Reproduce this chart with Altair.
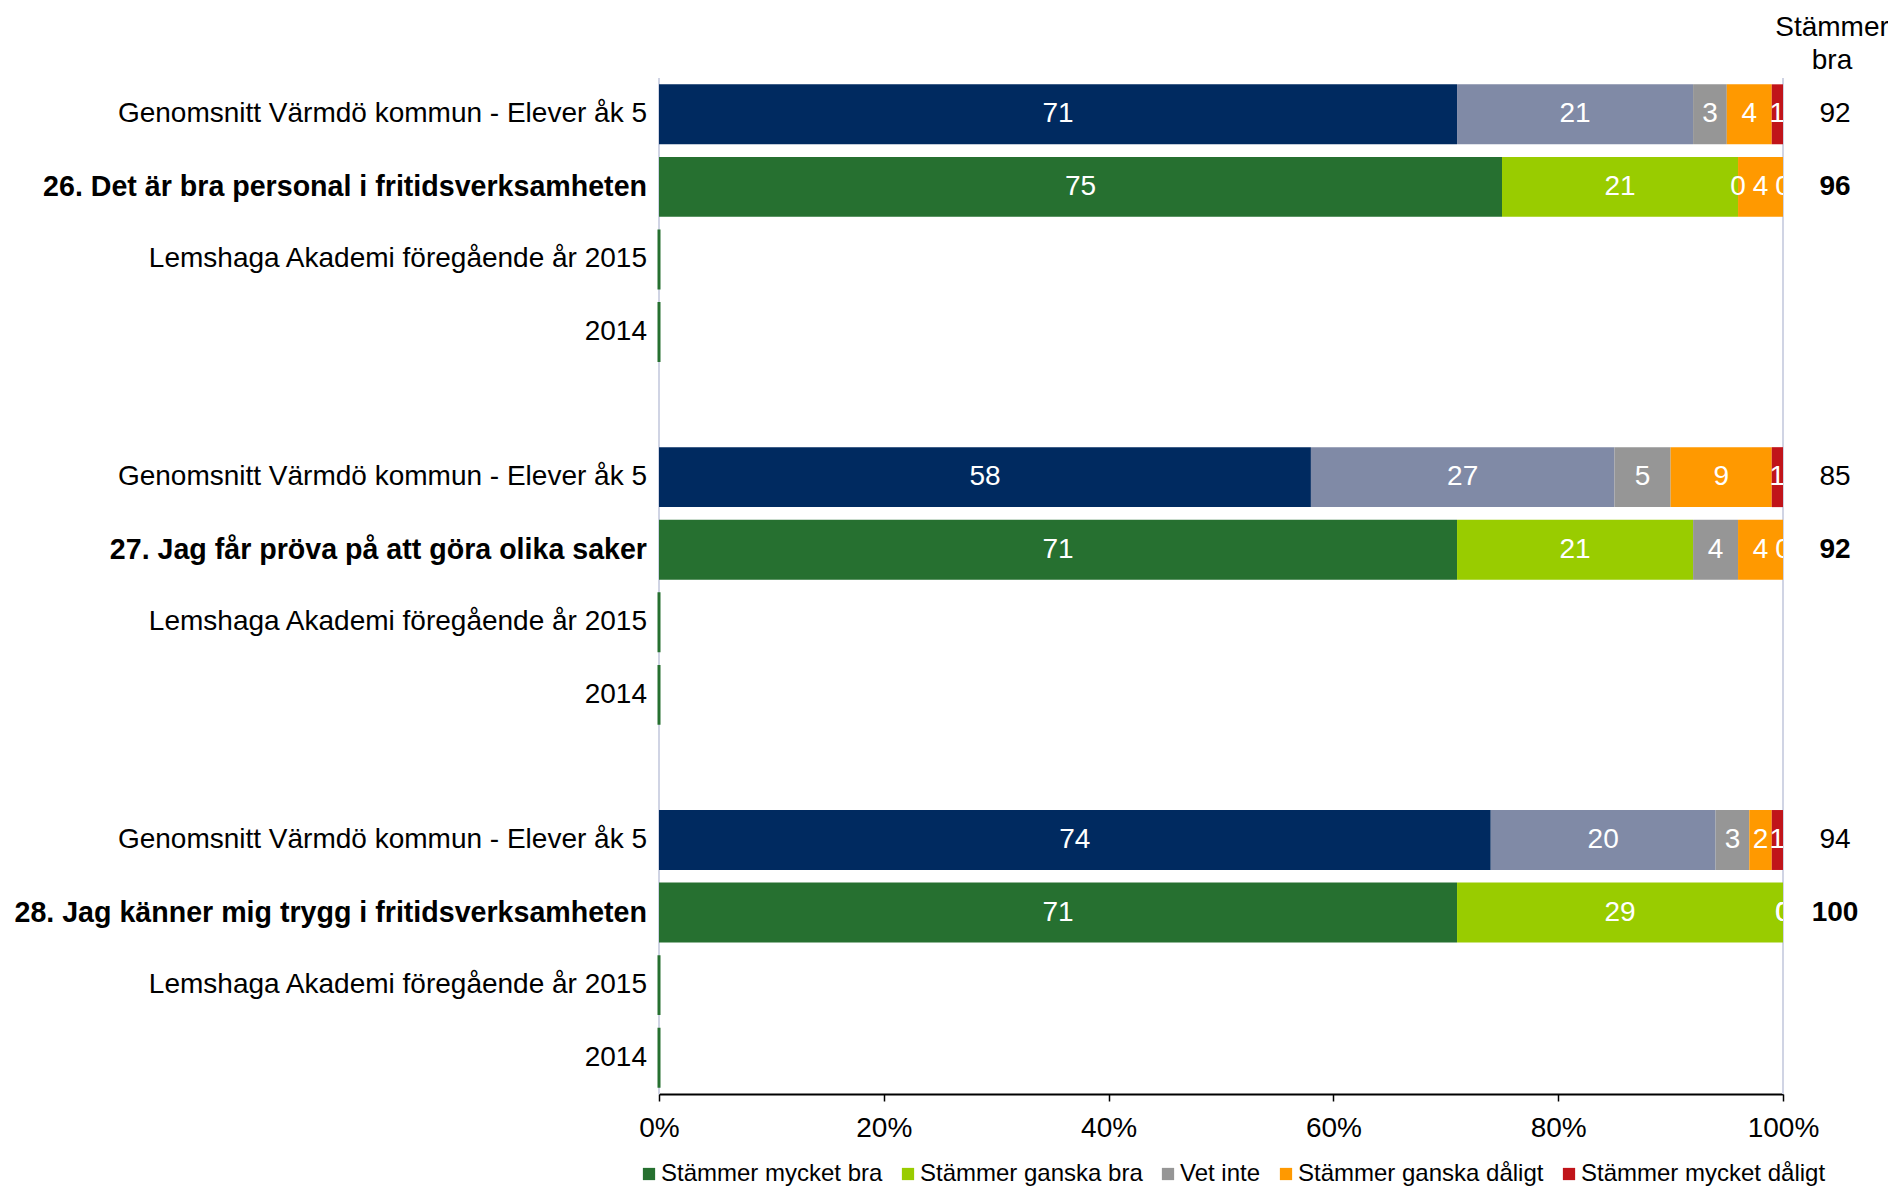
import altair as alt
import pandas as pd

# ---------------- data ----------------
categories = ["Stämmer mycket bra", "Stämmer ganska bra", "Vet inte",
              "Stämmer ganska dåligt", "Stämmer mycket dåligt"]
kommun_keys = ["Genomsnitt mycket bra", "Genomsnitt ganska bra", "Vet inte",
               "Stämmer ganska dåligt", "Stämmer mycket dåligt"]
color_domain = categories + ["Genomsnitt mycket bra", "Genomsnitt ganska bra"]
color_range = ["#267030", "#99cc00", "#969696", "#ff9900", "#c0141a",
               "#002a60", "#808aa6"]

row_ids = [f"r{i:02d}" for i in range(14)]
row_labels = [
    "Genomsnitt Värmdö kommun - Elever åk 5",
    "26. Det är bra personal i fritidsverksamheten",
    "Lemshaga Akademi föregående år 2015",
    "2014",
    "",
    "Genomsnitt Värmdö kommun - Elever åk 5",
    "27. Jag får pröva på att göra olika saker",
    "Lemshaga Akademi föregående år 2015",
    "2014",
    "",
    "Genomsnitt Värmdö kommun - Elever åk 5",
    "28. Jag känner mig trygg i fritidsverksamheten",
    "Lemshaga Akademi föregående år 2015",
    "2014",
]
row_kind = ["kommun", "question", "prev", "prev", "blank",
            "kommun", "question", "prev", "prev", "blank",
            "kommun", "question", "prev", "prev"]

kommun_values = [[71, 21, 3, 4, 1], [58, 27, 5, 9, 1], [74, 20, 3, 2, 1]]
school_values = [[75, 21, 0, 4, 0], [71, 21, 4, 4, 0], [71, 29, 0, 0, 0]]
kommun_rows = ["r00", "r05", "r10"]
school_rows = ["r01", "r06", "r11"]
prev_rows = ["r02", "r03", "r07", "r08", "r12", "r13"]
prev_values = [0, 0, 0, 0, 0, 0]

stammer_bra_rows = ["r00", "r01", "r05", "r06", "r10", "r11"]
stammer_bra_values = [92, 96, 85, 92, 94, 100]
stammer_bra_kind = ["kommun", "question", "kommun", "question", "kommun", "question"]
header_text = "Stämmer\nbra"

# ---------------- tables ----------------
seg_records = []
for rid, vals in zip(kommun_rows, kommun_values):
    for i, (cat, key, v) in enumerate(zip(categories, kommun_keys, vals)):
        seg_records.append({"row": rid, "cat": cat, "key": key, "value": v, "order": i})
for rid, vals in zip(school_rows, school_values):
    for i, (cat, v) in enumerate(zip(categories, vals)):
        seg_records.append({"row": rid, "cat": cat, "key": cat, "value": v, "order": i})
seg_df = pd.DataFrame(seg_records)

prev_df = pd.DataFrame({"row": prev_rows, "value": prev_values})
label_df = pd.DataFrame({"row": row_ids, "label": row_labels, "kind": row_kind})
label_df = label_df[label_df["label"] != ""]
sb_df = pd.DataFrame({"row": stammer_bra_rows, "value": stammer_bra_values,
                      "kind": stammer_bra_kind})
header_df = pd.DataFrame({"text": [header_text]})
edge_df = pd.DataFrame({"edge": [0, 100]})

FONT = "Liberation Sans"
FS = 28
FSB = 28.6

x_scale = alt.Scale(domain=[0, 100], nice=False, zero=True)
y_enc = alt.Y("row:N", scale=alt.Scale(domain=row_ids, paddingInner=0.174,
                                       paddingOuter=0.087), axis=None)

x_axis = alt.Axis(title=None, values=[0, 20, 40, 60, 80, 100],
                  labelExpr="datum.value + '%'", labelFontSize=FS,
                  labelColor="black", domainColor="black", domainWidth=2,
                  tickColor="black", tickSize=7, tickWidth=1.5,
                  labelPadding=13, labelFlush=False, grid=False)

edges = alt.Chart(edge_df).mark_rule(color="#d0d4e4", strokeWidth=2).encode(
    x=alt.X("edge:Q", scale=x_scale, axis=x_axis)
)

stacked = alt.Chart(seg_df).transform_stack(
    stack="value", groupby=["row"], sort=[alt.SortField("order", order="ascending")],
    as_=["x0", "x1"]
)

bars = stacked.mark_bar().encode(
    x=alt.X("x0:Q", scale=x_scale, axis=x_axis),
    x2="x1:Q",
    y=y_enc,
    color=alt.Color("key:N",
                    scale=alt.Scale(domain=color_domain, range=color_range),
                    legend=alt.Legend(values=categories, title=None, orient="none",
                                      legendX=-22, legendY=1084,
                                      direction="horizontal", columns=5,
                                      symbolType="square", symbolSize=150,
                                      symbolStrokeWidth=0, labelFontSize=24,
                                      labelLimit=400, columnPadding=13,
                                      labelOffset=0, labelColor="black")),
)

seg_labels = stacked.transform_calculate(mid="(datum.x0 + datum.x1) / 2").mark_text(
    color="white", fontSize=FS, clip=True, baseline="middle", align="center"
).encode(
    x=alt.X("mid:Q", scale=x_scale),
    y=y_enc,
    text="value:Q",
)

prev_bars = alt.Chart(prev_df).mark_bar(color="#267030", stroke="#267030",
                                        strokeWidth=3).encode(
    x=alt.X("value:Q", scale=x_scale),
    y=y_enc,
)

ylab_normal = alt.Chart(label_df).transform_filter("datum.kind != 'question'").mark_text(
    align="right", baseline="middle", fontSize=FS, color="black"
).encode(x=alt.value(-12), y=y_enc, text="label:N")

ylab_bold = alt.Chart(label_df).transform_filter("datum.kind == 'question'").mark_text(
    align="right", baseline="middle", fontSize=FSB, color="black", fontWeight="bold"
).encode(x=alt.value(-12), y=y_enc, text="label:N")

sb_normal = alt.Chart(sb_df).transform_filter("datum.kind != 'question'").mark_text(
    align="center", baseline="middle", fontSize=FS, color="black"
).encode(x=alt.value(1176), y=y_enc, text="value:Q")

sb_bold = alt.Chart(sb_df).transform_filter("datum.kind == 'question'").mark_text(
    align="center", baseline="middle", fontSize=FS, color="black", fontWeight="bold"
).encode(x=alt.value(1176), y=y_enc, text="value:Q")

header = alt.Chart(header_df).mark_text(
    align="center", baseline="middle", fontSize=FS, color="black",
    lineBreak="\n", lineHeight=33
).encode(x=alt.value(1173), y=alt.value(-50), text="text:N")

chart = alt.layer(
    edges, bars, prev_bars, seg_labels, ylab_normal, ylab_bold, sb_normal, sb_bold, header
).properties(
    width=1124, height=1016,
    padding={"left": 651, "top": 70, "right": 105, "bottom": 94},
    autosize=alt.AutoSizeParams(type="none"),
).configure(font=FONT).configure_view(stroke=None)

chart.save("out.html", embed_options={"renderer": "svg", "actions": False})
